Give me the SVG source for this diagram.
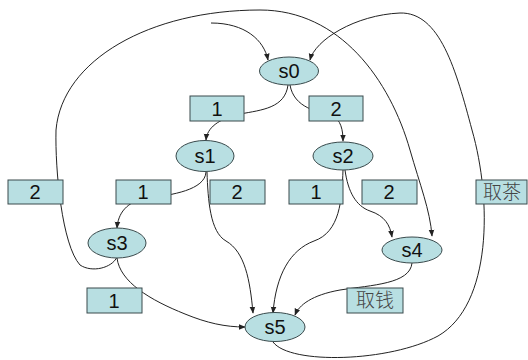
<svg xmlns="http://www.w3.org/2000/svg" width="528" height="360" viewBox="0 0 528 360">
  <style>
    .state { fill: #b8dfe2; stroke: #3a4a4c; stroke-width: 1; }
    .lbl { fill: #b8dfe2; stroke: #3a4a4c; stroke-width: 1; }
    .t { font-family: "Liberation Sans", Arial, sans-serif; font-size: 20px; fill: #111; text-anchor: middle; }
    .cn { font-family: "Noto Sans CJK SC", sans-serif; font-size: 19px; fill: #444; text-anchor: middle; font-weight: 300; }
    .edge { fill: none; stroke: #222; stroke-width: 1; }
    .arr { marker-end: url(#ah); }
  </style>
  <defs>
    <marker id="ah" viewBox="0 0 10 10" refX="9" refY="5" markerWidth="7" markerHeight="7" orient="auto-start-reverse" markerUnits="userSpaceOnUse">
      <path d="M0 1 L10 5 L0 9 Z" fill="#222"/>
    </marker>
  </defs>
  <rect width="528" height="360" fill="#ffffff"/>

  <!-- transitions -->
  <g id="edges">
    <path class="edge arr" d="M 211 23 C 245 23, 264 40, 268 60"/>
    <path class="edge arr" d="M 273 342 C 290 365, 390 362, 438 336 C 492 305, 492 200, 472 130 C 456 70, 440 12, 400 13 C 355 15, 315 40, 310 60"/>
    <path class="edge arr" d="M 117 257 C 112 268, 92 273, 80 265 C 62 245, 55 170, 56 130 C 62 60, 150 10, 260 10 C 340 10, 390 80, 410 150 C 420 185, 430 210, 432 236"/>
    <path class="edge arr" d="M 288 85 C 285 108, 262 110, 240 114 C 218 119, 207 128, 206 140"/>
    <path class="edge arr" d="M 290 85 C 294 108, 318 112, 332 115 C 341 120, 343 130, 343 141"/>
    <path class="edge arr" d="M 206 172 C 205 190, 172 195, 148 198 C 126 201, 118 214, 117 228"/>
    <path class="edge arr" d="M 207 172 C 208 200, 210 232, 226 241 C 245 252, 250 280, 253 313"/>
    <path class="edge arr" d="M 343 170 C 342 200, 340 232, 314 241 C 290 250, 276 275, 273 313"/>
    <path class="edge arr" d="M 345 170 C 348 192, 356 206, 370 211 C 385 216, 390 225, 392 237"/>
    <path class="edge arr" d="M 412 263 C 410 284, 372 285, 340 290 C 312 295, 299 305, 295 315"/>
    <path class="edge arr" d="M 117 258 C 120 282, 150 300, 185 314 C 207 323, 225 327, 245 327"/>
  </g>

  <!-- input labels -->
  <g id="label-s0-1"><rect class="lbl" x="190" y="96" width="54" height="25"/><text class="t" x="217" y="116">1</text></g>
  <g id="label-s0-2"><rect class="lbl" x="309" y="96" width="54" height="25"/><text class="t" x="336" y="116">2</text></g>
  <g id="label-left-2"><rect class="lbl" x="8" y="180" width="55" height="24"/><text class="t" x="35" y="199">2</text></g>
  <g id="label-s1-1"><rect class="lbl" x="116" y="180" width="55" height="24"/><text class="t" x="143" y="199">1</text></g>
  <g id="label-s1-2"><rect class="lbl" x="210" y="180" width="55" height="24"/><text class="t" x="237" y="199">2</text></g>
  <g id="label-s2-1"><rect class="lbl" x="289" y="180" width="54" height="24"/><text class="t" x="316" y="199">1</text></g>
  <g id="label-s2-2"><rect class="lbl" x="362" y="180" width="55" height="24"/><text class="t" x="389" y="199">2</text></g>
  <g id="label-tea"><rect class="lbl" x="476" y="180" width="51" height="24"/><text class="cn" x="502" y="199">取茶</text></g>
  <g id="label-s3-1"><rect class="lbl" x="87" y="288" width="55" height="25"/><text class="t" x="114" y="308">1</text></g>
  <g id="label-money"><rect class="lbl" x="347" y="288" width="56" height="25"/><text class="cn" x="375" y="307">取钱</text></g>

  <!-- states -->
  <g id="s0"><ellipse class="state" cx="289" cy="71" rx="29.5" ry="14"/><text class="t" x="289" y="78">s0</text></g>
  <g id="s1"><ellipse class="state" cx="205" cy="156" rx="29" ry="15.5"/><text class="t" x="205" y="163">s1</text></g>
  <g id="s2"><ellipse class="state" cx="343" cy="156" rx="30" ry="14"/><text class="t" x="343" y="163">s2</text></g>
  <g id="s3"><ellipse class="state" cx="117" cy="243" rx="29" ry="15"/><text class="t" x="117" y="250">s3</text></g>
  <g id="s4"><ellipse class="state" cx="412" cy="250" rx="30" ry="13"/><text class="t" x="412" y="257">s4</text></g>
  <g id="s5"><ellipse class="state" cx="275" cy="327" rx="30" ry="14.5"/><text class="t" x="275" y="334">s5</text></g>
</svg>
